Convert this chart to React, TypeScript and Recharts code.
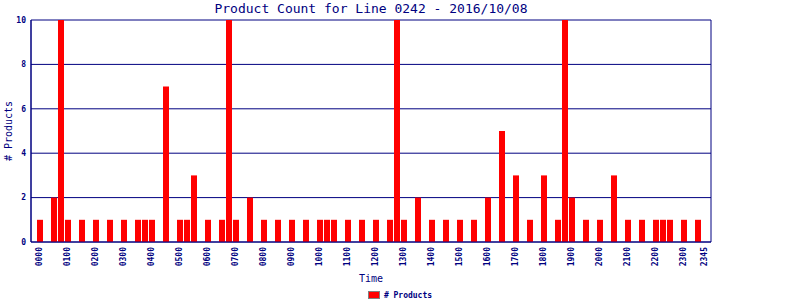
import { Bar, BarChart, CartesianGrid, Legend, XAxis, YAxis } from 'recharts'

const NAVY = '#000080'
const MONO = '"DejaVu Sans Mono", monospace'

// 15 minute slots, 0000 .. 2345
const hours = ['00', '01', '02', '03', '04', '05', '06', '07', '08', '09', '10', '11',
    '12', '13', '14', '15', '16', '17', '18', '19', '20', '21', '22', '23']
const quarters = ['00', '15', '30', '45']
const slotTimes = hours.flatMap(h => quarters.map(q => h + q))

// products counted in each slot (one row = two hours)
const productCounts = [
    1, 0, 2, 10, 1, 0, 1, 0,
    1, 0, 1, 0, 1, 0, 1, 1,
    1, 0, 7, 0, 1, 1, 3, 0,
    1, 0, 1, 10, 1, 0, 2, 0,
    1, 0, 1, 0, 1, 0, 1, 0,
    1, 1, 1, 0, 1, 0, 1, 0,
    1, 0, 1, 10, 1, 0, 2, 0,
    1, 0, 1, 0, 1, 0, 1, 0,
    2, 0, 5, 0, 3, 0, 1, 0,
    3, 0, 1, 10, 2, 0, 1, 0,
    1, 0, 3, 0, 1, 0, 1, 0,
    1, 1, 1, 0, 1, 0, 1, 0,
]

const timeTicks = ['0000', '0100', '0200', '0300', '0400', '0500', '0600', '0700', '0800', '0900',
    '1000', '1100', '1200', '1300', '1400', '1500', '1600', '1700', '1800', '1900', '2000',
    '2100', '2200', '2300', '2345']
const countTicks = [0, 2, 4, 6, 8, 10]

const data = slotTimes.map((t, i) => ({ time: t, products: productCounts[i] }))

const TimeTick = (props) => {
    const { x, y, payload } = props
    return (
        <g transform={`translate(${x},${y})`}>
            <text transform="rotate(-90)" textAnchor="end" dy="0.35em" fill={NAVY}
                  fontSize={8} fontWeight="bold" fontFamily={MONO}>{payload.value}</text>
        </g>
    )
}

const LegendBox = () => (
    <div style={{ display: 'flex', justifyContent: 'center', alignItems: 'center', height: 14 }}>
        <span style={{ display: 'inline-block', width: 10, height: 6, background: '#ff0000', border: '1px solid #808080' }} />
        <span style={{ marginLeft: 4, fontFamily: MONO, fontSize: 8, fontWeight: 'bold', color: NAVY }}># Products</span>
    </div>
)

export default function App() {
    return (
        <div style={{ position: 'absolute', left: 0, top: 0, width: 800, height: 300, background: '#fff' }}>
            <BarChart width={800} height={300} data={data} barSize={6}
                      margin={{ top: 20, right: 89, left: 0, bottom: 28 }}>
                <text x={371} y={13} textAnchor="middle" fill={NAVY} fontSize={13} fontFamily={MONO}>
                    Product Count for Line 0242 - 2016/10/08
                </text>
                <text x={12} y={131} transform="rotate(-90, 12, 131)" textAnchor="middle" fill={NAVY}
                      fontSize={10} fontFamily={MONO}># Products</text>
                <text x={371} y={282} textAnchor="middle" fill={NAVY} fontSize={10} fontFamily={MONO}>Time</text>
                <CartesianGrid stroke={NAVY} strokeDasharray="" horizontal={true} vertical={true}
                               verticalCoordinatesGenerator={({ offset }) => [offset.left, offset.left + offset.width]} />
                <XAxis dataKey="time" ticks={timeTicks} interval={0} height={30} padding={{ left: 5, right: 3 }}
                       tickLine={false} tickSize={5} tickMargin={0} axisLine={{ stroke: NAVY }} tick={<TimeTick />} />
                <YAxis width={31} domain={[0, 10]} ticks={countTicks} allowDataOverflow
                       tickLine={false} tickSize={3} tickMargin={2} axisLine={{ stroke: NAVY }}
                       tick={{ fill: NAVY, fontSize: 8, fontWeight: 'bold', fontFamily: MONO }} />
                <Legend layout="horizontal" verticalAlign="middle" align="center" content={<LegendBox />}
                        wrapperStyle={{ top: 288, left: 0, width: 800 }} />
                <Bar dataKey="products" name="# Products" fill="#ff0000" isAnimationActive={false} />
            </BarChart>
        </div>
    )
}
